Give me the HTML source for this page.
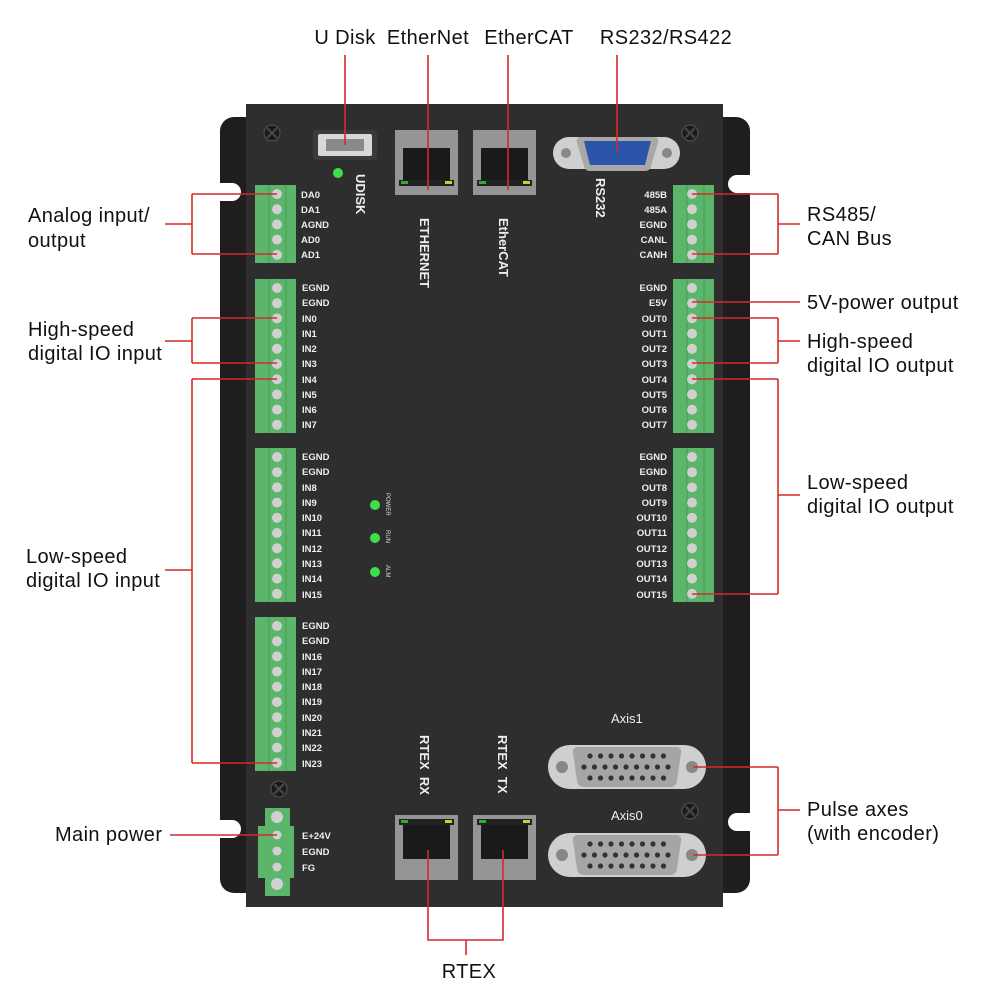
<!DOCTYPE html>
<html><head><meta charset="utf-8"><style>
html,body{margin:0;padding:0;background:#fff;width:1000px;height:1000px;overflow:hidden}
svg{display:block}
.lb{font-family:"Liberation Sans",sans-serif;font-size:20px;letter-spacing:0.4px;fill:#111}
.pl{font-family:"Liberation Sans",sans-serif;font-size:9.5px;fill:#eee;font-weight:bold}
.vl{font-family:"Liberation Sans",sans-serif;font-size:13px;fill:#eee;font-weight:bold}
.r{stroke:#d42a2a;stroke-width:1.6;fill:none}
</style></head><body>
<svg id="s" width="1000" height="1000" viewBox="0 0 1000 1000">
<rect x="220" y="117" width="530" height="776" rx="14" fill="#1e1e1e"/>
<rect x="205" y="183" width="36" height="18" rx="9" fill="#fff"/>
<rect x="205" y="820" width="36" height="18" rx="9" fill="#fff"/>
<rect x="728" y="175" width="40" height="18" rx="9" fill="#fff"/>
<rect x="728" y="813" width="40" height="18" rx="9" fill="#fff"/>
<rect x="246" y="104" width="477" height="803" fill="#2e2e2e"/>
<g id="dyn"></g>
<rect x="313" y="130" width="64" height="30" rx="3" fill="#3a3a3a"/>
<rect x="318" y="134" width="54" height="22" rx="2" fill="#d8d8d8"/>
<rect x="326" y="139" width="38" height="12" fill="#8a8a8a"/>
<circle cx="338" cy="173" r="5" fill="#3ee04a"/>
<g id="eth"></g>
<rect x="553" y="137" width="127" height="32" rx="16" fill="#cfcfcf"/>
<circle cx="566" cy="153" r="5" fill="#888"/><circle cx="667" cy="153" r="5" fill="#888"/>
<path d="M581 137 H654 Q659 137 658 143 L651 166 Q650 171 645 171 H590 Q585 171 584 166 L577 143 Q576 137 581 137Z" fill="#a8a8a8"/>
<path d="M584 141 H651 L645 165 H590Z" fill="#2b55a8"/>
<g id="db"></g>
<g fill="#1a1a1a" stroke="#555" stroke-width="1">
<circle cx="272" cy="133" r="8"/><circle cx="690" cy="133" r="8"/><circle cx="690" cy="811" r="8"/><circle cx="279" cy="789" r="8"/>
</g>
<g stroke="#444" stroke-width="2.5" stroke-linecap="round">
<path d="M268 129 L276 137 M276 129 L268 137"/><path d="M686 129 L694 137 M694 129 L686 137"/>
<path d="M686 807 L694 815 M694 807 L686 815"/><path d="M275 785 L283 793 M283 785 L275 793"/>
</g>
<circle cx="375" cy="505" r="5" fill="#3ee04a"/><circle cx="375" cy="538" r="5" fill="#3ee04a"/><circle cx="375" cy="572" r="5" fill="#3ee04a"/>
<g style="font-family:'Liberation Sans',sans-serif;font-size:6px;fill:#ddd">
<text transform="translate(386,493) rotate(90)">POWER</text>
<text transform="translate(386,530) rotate(90)">RUN</text>
<text transform="translate(386,565) rotate(90)">ALM</text>
</g>
<text class="vl" transform="translate(356,174) rotate(90)">UDISK</text>
<text class="vl" transform="translate(420,218) rotate(90)">ETHERNET</text>
<text class="vl" transform="translate(499,218) rotate(90)">EtherCAT</text>
<text class="vl" transform="translate(596,178) rotate(90)">RS232</text>
<text class="vl" transform="translate(420,735) rotate(90)">RTEX&#160;&#160;RX</text>
<text class="vl" transform="translate(498,735) rotate(90)">RTEX&#160;&#160;TX</text>
<text class="vl" x="611" y="723" style="font-weight:normal">Axis1</text>
<text class="vl" x="611" y="820" style="font-weight:normal">Axis0</text>
<g class="pl">
<text x="301" y="198">DA0</text><text x="301" y="213">DA1</text><text x="301" y="228">AGND</text><text x="301" y="243">AD0</text><text x="301" y="258">AD1</text>
<text x="302" y="291">EGND</text><text x="302" y="306">EGND</text><text x="302" y="322">IN0</text><text x="302" y="337">IN1</text><text x="302" y="352">IN2</text><text x="302" y="367">IN3</text><text x="302" y="383">IN4</text><text x="302" y="398">IN5</text><text x="302" y="413">IN6</text><text x="302" y="428">IN7</text>
<text x="302" y="460">EGND</text><text x="302" y="475">EGND</text><text x="302" y="491">IN8</text><text x="302" y="506">IN9</text><text x="302" y="521">IN10</text><text x="302" y="536">IN11</text><text x="302" y="552">IN12</text><text x="302" y="567">IN13</text><text x="302" y="582">IN14</text><text x="302" y="598">IN15</text>
<text x="302" y="629">EGND</text><text x="302" y="644">EGND</text><text x="302" y="660">IN16</text><text x="302" y="675">IN17</text><text x="302" y="690">IN18</text><text x="302" y="705">IN19</text><text x="302" y="721">IN20</text><text x="302" y="736">IN21</text><text x="302" y="751">IN22</text><text x="302" y="767">IN23</text>
<text x="302" y="839">E+24V</text><text x="302" y="855">EGND</text><text x="302" y="871">FG</text>
</g>
<g class="pl" text-anchor="end">
<text x="667" y="198">485B</text><text x="667" y="213">485A</text><text x="667" y="228">EGND</text><text x="667" y="243">CANL</text><text x="667" y="258">CANH</text>
<text x="667" y="291">EGND</text><text x="667" y="306">E5V</text><text x="667" y="322">OUT0</text><text x="667" y="337">OUT1</text><text x="667" y="352">OUT2</text><text x="667" y="367">OUT3</text><text x="667" y="383">OUT4</text><text x="667" y="398">OUT5</text><text x="667" y="413">OUT6</text><text x="667" y="428">OUT7</text>
<text x="667" y="460">EGND</text><text x="667" y="475">EGND</text><text x="667" y="491">OUT8</text><text x="667" y="506">OUT9</text><text x="667" y="521">OUT10</text><text x="667" y="536">OUT11</text><text x="667" y="552">OUT12</text><text x="667" y="567">OUT13</text><text x="667" y="582">OUT14</text><text x="667" y="598">OUT15</text>
</g>
<g class="r">
<path d="M345 55 V145"/><path d="M428 55 V190"/><path d="M508 55 V190"/><path d="M617 55 V152"/>
<path d="M165 224 H192 M192 194 V254 M192 194 H277 M192 254 H277"/>
<path d="M165 341 H192 M192 318 V363 M192 318 H277 M192 363 H277"/>
<path d="M165 570 H192 M192 379 V763 M192 379 H277 M192 763 H277"/>
<path d="M170 835 H277"/>
<path d="M800 224 H778 M778 194 V254 M778 194 H692 M778 254 H692"/>
<path d="M800 302 H692"/>
<path d="M800 341 H778 M778 318 V363 M778 318 H692 M778 363 H692"/>
<path d="M800 495 H778 M778 379 V594 M778 379 H692 M778 594 H692"/>
<path d="M800 810 H778 M778 767 V855 M778 767 H693 M778 855 H693"/>
<path d="M428 850 V940 H503 V850 M466 940 V955"/>
</g>
<g class="lb">
<text x="345" y="44" text-anchor="middle">U Disk</text>
<text x="428" y="44" text-anchor="middle">EtherNet</text>
<text x="529" y="44" text-anchor="middle">EtherCAT</text>
<text x="666" y="44" text-anchor="middle">RS232/RS422</text>
<text x="28" y="222">Analog input/</text><text x="28" y="247">output</text>
<text x="28" y="336">High-speed</text><text x="28" y="360">digital IO input</text>
<text x="26" y="563">Low-speed</text><text x="26" y="587">digital IO input</text>
<text x="55" y="841">Main power</text>
<text x="807" y="221">RS485/</text><text x="807" y="245">CAN Bus</text>
<text x="807" y="309">5V-power output</text>
<text x="807" y="348">High-speed</text><text x="807" y="372">digital IO output</text>
<text x="807" y="489">Low-speed</text><text x="807" y="513">digital IO output</text>
<text x="807" y="816">Pulse axes</text><text x="807" y="840">(with encoder)</text>
<text x="469" y="978" text-anchor="middle">RTEX</text>
</g>
</svg>
<script>
var NS="http://www.w3.org/2000/svg",d=document.getElementById("dyn");
function el(p,t,a){var e=document.createElementNS(NS,t);for(var k in a)e.setAttribute(k,a[k]);p.appendChild(e);return e;}
function block(x,y0,n,pinx){var h=n*15.2+2;el(d,"rect",{x:x,y:y0,width:41,height:h,fill:"#5bb56a"});
el(d,"line",{x1:x+14,y1:y0,x2:x+14,y2:y0+h,stroke:"#4a9a58","stroke-width":1});
el(d,"line",{x1:x+31,y1:y0,x2:x+31,y2:y0+h,stroke:"#4a9a58","stroke-width":1});
for(var i=0;i<n;i++)el(d,"circle",{cx:pinx,cy:y0+9+i*15.2,r:5,fill:"#d0d0d0"});}
block(255,185,5,277);block(255,279,10,277);block(255,448,10,277);block(255,617,10,277);
block(673,185,5,692);block(673,279,10,692);block(673,448,10,692);
el(d,"rect",{x:265,y:808,width:25,height:88,fill:"#5bb56a"});
el(d,"rect",{x:258,y:826,width:36,height:52,fill:"#5bb56a"});
[817,835,851,867,884].forEach(function(y,i){el(d,"circle",{cx:277,cy:y,r:(i==0||i==4)?6:4.5,fill:"#d0d0d0"});});
var g=document.getElementById("eth");
[[395,130],[473,130],[395,815],[473,815]].forEach(function(p){var x=p[0],y=p[1],top=y<500;
el(g,"rect",{x:x,y:y,width:63,height:65,fill:"#959595"});
el(g,"rect",{x:x+8,y:top?y+18:y+8,width:47,height:36,fill:"#1a1a1a"});
el(g,"rect",{x:x+4,y:top?y+50:y+4,width:55,height:6,fill:"#222"});
el(g,"rect",{x:x+6,y:top?y+51:y+5,width:7,height:3,fill:"#3a3"});
el(g,"rect",{x:x+50,y:top?y+51:y+5,width:7,height:3,fill:"#cc3"});});
var db=document.getElementById("db");
[767,855].forEach(function(cy){
el(db,"rect",{x:548,y:cy-22,width:158,height:44,rx:22,fill:"#cfcfcf"});
el(db,"circle",{cx:562,cy:cy,r:6,fill:"#888"});el(db,"circle",{cx:692,cy:cy,r:6,fill:"#888"});
el(db,"path",{d:"M578 "+(cy-20)+" H676 Q682 "+(cy-20)+" 681 "+(cy-14)+" L677 "+(cy+14)+" Q676 "+(cy+20)+" 670 "+(cy+20)+" H584 Q578 "+(cy+20)+" 577 "+(cy+14)+" L573 "+(cy-14)+" Q572 "+(cy-20)+" 578 "+(cy-20)+"Z",fill:"#a5a5a5"});
for(var r=0;r<3;r++){var n=r==1?9:8,ox=r==1?584:590;for(var i=0;i<n;i++)el(db,"circle",{cx:ox+i*10.5,cy:cy-11+r*11,r:2.6,fill:"#333"});}});
</script>
</body></html>
